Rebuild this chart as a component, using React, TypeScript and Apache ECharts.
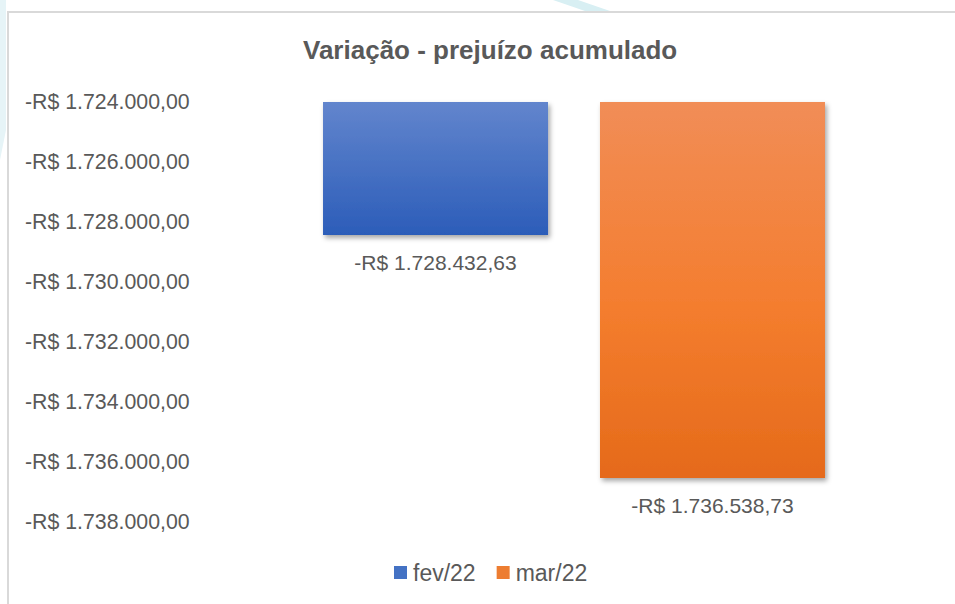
import React, { useEffect, useRef } from "react";
import * as echarts from "echarts";

const categories = ["Variação"];
const seriesNames = ["fev/22", "mar/22"];
const seriesValues = [-1728432.63, -1736538.73];
const axisMin = -1738000;
const axisMax = -1724000;
const axisInterval = 2000;

const fmtBRL = (v: number, decimals = 2) => {
  const neg = v < 0;
  const abs = Math.abs(v);
  const fixed = abs.toFixed(decimals);
  const [intPart, decPart] = fixed.split(".");
  const withDots = intPart.replace(/\B(?=(\d{3})+(?!\d))/g, ".");
  return (neg ? "-" : "") + "R$ " + withDots + "," + decPart;
};

const FONT = "Liberation Sans";
const TEXT = "#595959";

export default function App() {
  const ref = useRef<HTMLDivElement>(null);
  useEffect(() => {
    document.body.style.margin = "0";
    if (!ref.current) return;
    const chart = echarts.init(ref.current, undefined, { renderer: "svg" });
    const grads = [
      new echarts.graphic.LinearGradient(0, 0, 0, 1, [
        { offset: 0, color: "#6285CD" },
        { offset: 1, color: "#2C5DB9" },
      ]),
      new echarts.graphic.LinearGradient(0, 0, 0, 1, [
        { offset: 0, color: "#F18D57" },
        { offset: 0.55, color: "#F47D2E" },
        { offset: 1, color: "#E56A1A" },
      ]),
    ];
    const legendColors = ["#4472C4", "#ED7D31"];
    chart.setOption({
      animation: false,
      backgroundColor: "#ffffff",
      title: {
        text: "Variação - prejuízo acumulado",
        left: 298,
        top: 32,
        textStyle: { fontFamily: FONT, fontSize: 26, fontWeight: "bold", color: TEXT },
      },
      legend: {
        bottom: 15,
        left: 389,
        itemWidth: 13,
        itemHeight: 13,
        itemGap: 21,
        icon: "rect",
        textStyle: { fontFamily: FONT, fontSize: 23, color: TEXT, padding: [0, 0, 0, 1] },
        data: seriesNames.map((n, i) => ({ name: n, itemStyle: { color: legendColors[i] } })),
      },
      grid: { left: 200, right: 7, top: 102, bottom: 82.3 },
      xAxis: {
        type: "category",
        data: categories,
        show: false,
      },
      yAxis: {
        type: "value",
        min: axisMin,
        max: axisMax,
        interval: axisInterval,
        axisLine: { show: false },
        axisTick: { show: false },
        splitLine: { show: false },
        axisLabel: {
          align: "left",
          margin: 175,
          fontFamily: FONT,
          fontSize: 21.3,
          color: TEXT,
          formatter: (v: number) => fmtBRL(v),
        },
      },
      series: seriesNames.map((name, i) => ({
        name,
        type: "bar",
        data: [seriesValues[i]],
        barWidth: 225,
        barGap: "23.1%",
        clip: true,
        itemStyle: {
          color: grads[i],
          shadowBlur: 5,
          shadowOffsetX: 2,
          shadowOffsetY: 3,
          shadowColor: "rgba(0,0,0,0.35)",
        },
        label: {
          show: true,
          position: "bottom",
          distance: 17,
          fontFamily: FONT,
          fontSize: 21,
          color: TEXT,
          formatter: (p: any) => fmtBRL(p.value),
        },
      })),
      graphic: [
        {
          type: "polygon",
          silent: true,
          shape: { points: [[553, 0], [578, 0], [610, 11], [585, 11]] },
          style: { fill: "#D8EFF3" },
        },
        {
          type: "polygon",
          silent: true,
          shape: { points: [[0, 0], [6, 0], [6, 130], [0, 160]] },
          style: { fill: "#E6F4F7" },
        },
        {
          type: "line",
          silent: true,
          shape: { x1: 7, y1: 12, x2: 955, y2: 12 },
          style: { stroke: "#D9D9D9", lineWidth: 2 },
        },
        {
          type: "line",
          silent: true,
          shape: { x1: 8, y1: 11, x2: 8, y2: 604 },
          style: { stroke: "#D9D9D9", lineWidth: 2 },
        },
      ],
    });
    return () => chart.dispose();
  }, []);
  return <div ref={ref} style={{ width: 955, height: 604 }} />;
}
